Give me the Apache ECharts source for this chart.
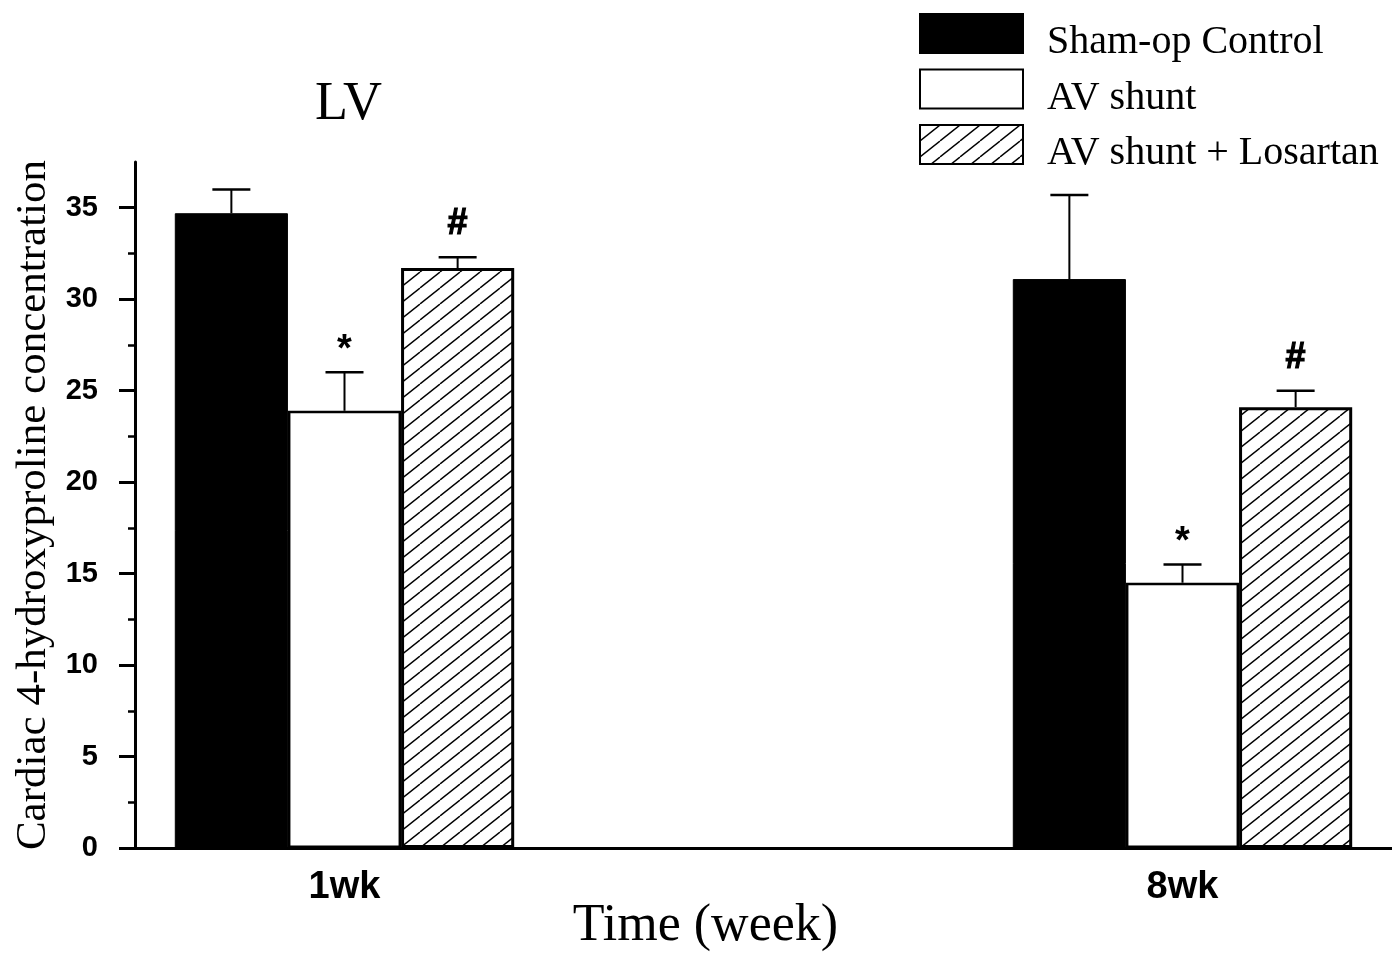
<!DOCTYPE html>
<html><head><meta charset="utf-8">
<script src="https://cdn.jsdelivr.net/npm/echarts@6/dist/echarts.min.js"></script>
<style>html,body{margin:0;padding:0;background:#fff}#c{width:1392px;height:953px}</style>
</head><body><div id="c"></div>
<script>
// ---- data ----
const categories = ['1wk', '', '8wk'];
const seriesNames = ['Sham-op Control', 'AV shunt', 'AV shunt + Losartan'];
const shamMean = [34.7, null, 31.1];
const shamErr = [1.3, null, 4.6];
const shuntMean = [23.9, null, 14.5];
const shuntErr = [2.1, null, 1.0];
const losMean = [31.7, null, 24.1];
const losErr = [0.6, null, 0.9];
const shamMarks = ['', '', ''];
const shuntMarks = ['*', '', '*'];
const losMarks = ['#', '', '#'];
const yMajorTicks = [0, 5, 10, 15, 20, 25, 30, 35];
const yMinorTicks = [2.5, 7.5, 12.5, 17.5, 22.5, 27.5, 32.5];
const yMax = 37.5;

// ---- styling ----
const SERIF = '"Liberation Serif", "Times New Roman", serif';
const SANS = '"Liberation Sans", Arial, sans-serif';
const barFrac = 0.27;

function hatchPattern() {
  const w = 20, h = 16;
  const c = document.createElement('canvas');
  c.width = w; c.height = h;
  const g = c.getContext('2d');
  g.fillStyle = '#fff';
  g.fillRect(0, 0, w, h);
  g.strokeStyle = '#000';
  g.lineWidth = 1.4;
  for (const dx of [-w, 0, w]) {
    g.beginPath();
    g.moveTo(dx, h);
    g.lineTo(dx + w, 0);
    g.stroke();
  }
  return { image: c, repeat: 'repeat' };
}

const means = [shamMean, shuntMean, losMean];
const errs = [shamErr, shuntErr, losErr];
const marks = [shamMarks, shuntMarks, losMarks];
const errItems = [];
for (let s = 0; s < 3; s++) {
  for (let i = 0; i < categories.length; i++) {
    if (means[s][i] == null) continue;
    errItems.push({ value: [i, s, means[s][i], errs[s][i]], mark: marks[s][i] });
  }
}

const markStyle = {
  '*': { fontSize: 38, dy: -22 },
  '#': { fontSize: 36, dy: -33 }
};

function renderErr(params, api) {
  const cat = api.value(0), s = api.value(1), mean = api.value(2), err = api.value(3);
  const band = api.size([1, 0])[0];
  const bw = band * barFrac;
  const base = api.coord([cat, mean]);
  const x = base[0] + (s - 1) * bw;
  const yTop = api.coord([cat, mean + err])[1];
  const children = [
    { type: 'line', shape: { x1: x, y1: base[1], x2: x, y2: yTop }, style: { stroke: '#000', lineWidth: 2 } },
    { type: 'line', shape: { x1: x - 19, y1: yTop, x2: x + 19, y2: yTop }, style: { stroke: '#000', lineWidth: 2.5 } }
  ];
  const m = errItems[params.dataIndex].mark;
  if (m) {
    const st = markStyle[m];
    children.push({ type: 'text', style: {
      text: m, x: x, y: yTop + st.dy, align: 'center', verticalAlign: 'middle',
      fontSize: st.fontSize, fontWeight: 'bold', fontFamily: SANS, fill: '#000',
      stroke: m === '#' ? '#000' : null, lineWidth: m === '#' ? 1.2 : 0 } });
  }
  return { type: 'group', children: children };
}

const chart = echarts.init(document.getElementById('c'), null, { renderer: 'canvas' });
chart.setOption({
  animation: false,
  backgroundColor: '#fff',
  title: {
    text: 'LV', left: 315, top: 78, padding: 0,
    textStyle: { fontFamily: SERIF, fontSize: 54, fontWeight: 'normal', color: '#000' }
  },
  legend: {
    orient: 'vertical', left: 919, top: 13, padding: 0, itemWidth: 103, itemHeight: 39, itemGap: 6,
    icon: 'rect',
    formatter: '{s| }{t|{name}}',
    textStyle: {
      color: '#000',
      rich: {
        s: { width: 19, lineHeight: 58, fontSize: 10 },
        t: { fontFamily: SERIF, fontSize: 40, lineHeight: 40, verticalAlign: 'bottom', color: '#000' }
      }
    },
    data: seriesNames
  },
  grid: { left: 135, right: 0, top: 162, bottom: 105, containLabel: false, outerBoundsMode: 'none' },
  xAxis: {
    type: 'category', data: categories,
    axisLine: { lineStyle: { color: '#000', width: 3 } },
    axisTick: { show: false },
    axisLabel: { fontFamily: SANS, fontSize: 38, fontWeight: 'bold', color: '#000', margin: 21, interval: 0 },
    name: 'Time (week)', nameLocation: 'middle', nameGap: 52, nameMoveOverlap: false,
    nameTextStyle: { fontFamily: SERIF, fontSize: 52, color: '#000', padding: [0, 116, 0, 0] }
  },
  yAxis: [{
    type: 'value', min: 0, max: yMax, interval: 5,
    axisLine: { show: true, lineStyle: { color: '#000', width: 3 } },
    axisTick: { show: true, customValues: yMajorTicks, length: 16, lineStyle: { color: '#000', width: 3 } },
    axisLabel: { customValues: yMajorTicks, fontFamily: SANS, fontSize: 29, fontWeight: 'bold', color: '#000', margin: 37 },
    splitLine: { show: false },
    name: 'Cardiac 4-hydroxyproline concentration', nameLocation: 'middle', nameGap: 80, nameMoveOverlap: false,
    nameTextStyle: { fontFamily: SERIF, fontSize: 43, color: '#000' }
  }, {
    type: 'value', min: 0, max: yMax, interval: 5, position: 'left',
    axisLine: { show: false },
    axisTick: { show: true, customValues: yMinorTicks, length: 7, lineStyle: { color: '#000', width: 2.5 } },
    axisLabel: { show: false },
    splitLine: { show: false }
  }],
  series: [
    { name: seriesNames[0], type: 'bar', data: shamMean, barWidth: (barFrac * 100) + '%', barGap: '0%',
      itemStyle: { color: '#000', borderColor: '#000', borderWidth: 1 } },
    { name: seriesNames[1], type: 'bar', data: shuntMean, barWidth: (barFrac * 100) + '%', barGap: '0%',
      itemStyle: { color: '#fff', borderColor: '#000', borderWidth: 2.5 } },
    { name: seriesNames[2], type: 'bar', data: losMean, barWidth: (barFrac * 100) + '%', barGap: '0%',
      itemStyle: { color: hatchPattern(), borderColor: '#000', borderWidth: 3 } },
    { type: 'custom', renderItem: renderErr, data: errItems, z: 5, silent: true }
  ]
});
</script>
</body></html>
